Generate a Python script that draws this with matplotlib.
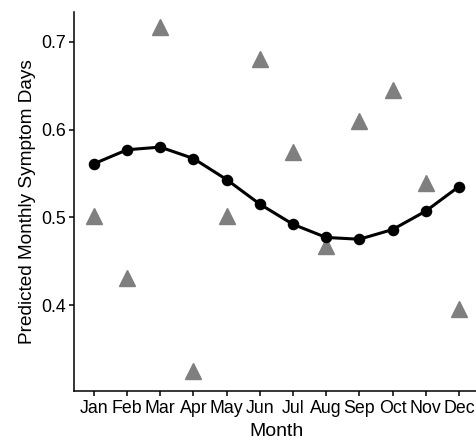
import numpy as np
import matplotlib
matplotlib.use('Agg')
import matplotlib.pyplot as plt

# Data

months    = ['Jan', 'Feb', 'Mar', 'Apr', 'May', 'Jun',
             'Jul', 'Aug', 'Sep', 'Oct', 'Nov', 'Dec']
predicted = [0.561, 0.577, 0.580, 0.567, 0.543, 0.515,
             0.492, 0.477, 0.475, 0.486, 0.507, 0.535]
observed  = [0.502, 0.431, 0.717, 0.325, 0.502, 0.681,
             0.574, 0.467, 0.610, 0.645, 0.539, 0.396]
y_ticks   = [0.4, 0.5, 0.6, 0.7]

plt.rcParams['font.family'] = ['Liberation Sans', 'DejaVu Sans']

fig = plt.figure(figsize=(4.76, 4.4), dpi=100)
ax = fig.add_axes([0.1555, 0.1114, 0.8504, 0.8613])

x = np.arange(len(months))
ax.plot(x, observed, linestyle='none', marker='^', markersize=11,
        color='#7f7f7f', zorder=2)
ax.plot(x, predicted, color='black', linewidth=2.2, marker='o',
        markersize=7.3, zorder=3)

ax.set_xlim(-0.6, 11.6)
ax.set_ylim(0.302, 0.734)
ax.set_xticks(x)
ax.set_xticklabels(months)
ax.set_yticks(y_ticks)
ax.set_yticklabels([f'{v:.1f}' for v in y_ticks])

for side in ['top', 'right']:
    ax.spines[side].set_visible(False)
for side in ['left', 'bottom']:
    ax.spines[side].set_linewidth(1.1)
    ax.spines[side].set_color('black')
ax.tick_params(length=3.6, width=1.1, colors='black', labelsize=12.8,
               pad=2.2)
ax.tick_params(axis='x', pad=2.8)

ax.set_xlabel('Month', fontsize=14, labelpad=4.5)
ax.set_ylabel('Predicted Monthly Symptom Days', fontsize=13.7, labelpad=4)

fig.savefig('out.png', dpi=100)
